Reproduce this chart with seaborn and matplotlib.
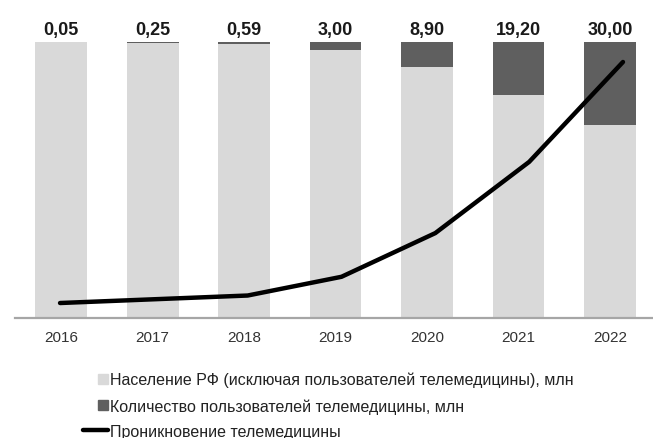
import matplotlib
matplotlib.use("Agg")
import matplotlib.pyplot as plt
import matplotlib.patches as mpatches
from matplotlib.lines import Line2D
from matplotlib.legend_handler import HandlerPatch
import seaborn as sns

# data
years = ["2016", "2017", "2018", "2019", "2020", "2021", "2022"]
users = [0.05, 0.25, 0.59, 3.00, 8.90, 19.20, 30.00]          # telemedicine users, mln
total = [100, 100, 100, 100, 100, 100, 100]                   # full bar height (chart scale)
penetration = [1.2, 1.5, 1.8, 3.3, 6.8, 12.5, 20.5]           # penetration, % (estimated)

pop_excl = [t - u for t, u in zip(total, users)]

LIGHT = "#d9d9d9"
DARK = "#5f5f5f"

sns.set_style("white")
plt.rcParams["font.family"] = ["Liberation Sans", "DejaVu Sans"]

fig = plt.figure(figsize=(6.53, 4.39), dpi=100)
rect = [15 / 653, 120 / 439, 638 / 653, 276 / 439]
ax = fig.add_axes(rect)

# stacked bars: dark full bar underneath, light part drawn over it from zero
sns.barplot(x=years, y=total, color=DARK, saturation=1, width=0.568,
            linewidth=0, ax=ax)
sns.barplot(x=years, y=pop_excl, color=LIGHT, saturation=1, width=0.568,
            linewidth=0, ax=ax)

ax.set_xlim(-0.503, 6.47)
ax.set_ylim(0, 100)
ax.set_xlabel("")
ax.set_ylabel("")
ax.set_yticks([])
for side in ["top", "left", "right"]:
    ax.spines[side].set_visible(False)
ax.spines["bottom"].set_color("#a6a6a6")
ax.spines["bottom"].set_linewidth(1.6)
ax.tick_params(axis="x", length=0, pad=9, labelsize=11, labelcolor="#333333")

# value labels above bars
for i, v in enumerate(users):
    ax.annotate(f"{v:.2f}".replace(".", ","), (i, 100), xytext=(0, 6),
                textcoords="offset points", ha="center", va="baseline",
                fontsize=13, fontweight="bold", color="#1a1a1a")

# penetration line on its own overlaid axes
ax2 = fig.add_axes(rect, frameon=False)
sns.lineplot(x=list(range(len(years))), y=penetration, ax=ax2, color="black",
             linewidth=3.2, solid_capstyle="round", solid_joinstyle="round")
ax2.set_xlim(-0.48, 6.32)
ax2.set_ylim(0, 22.1)
ax2.axis("off")


def right_square(legend, orig_handle, xdescent, ydescent, width, height, fontsize):
    s = 0.58 * fontsize
    return mpatches.Rectangle((width - xdescent - s, -ydescent + (height - s) / 2), s, s)


handles = [
    mpatches.Patch(color=LIGHT),
    mpatches.Patch(color=DARK),
    Line2D([], [], color="black", linewidth=3.2),
]
labels = [
    "Население РФ (исключая пользователей телемедицины), млн",
    "Количество пользователей телемедицины, млн",
    "Проникновение телемедицины",
]
fig.legend(handles, labels, loc="upper left", bbox_to_anchor=(83 / 653, 1 - 373 / 439),
           frameon=False, fontsize=11.5, handlelength=1.55, handletextpad=0.12,
           labelspacing=0.66, borderaxespad=0, borderpad=0,
           labelcolor="#222222",
           handler_map={mpatches.Patch: HandlerPatch(patch_func=right_square)})

fig.savefig("out.png", dpi=100)
